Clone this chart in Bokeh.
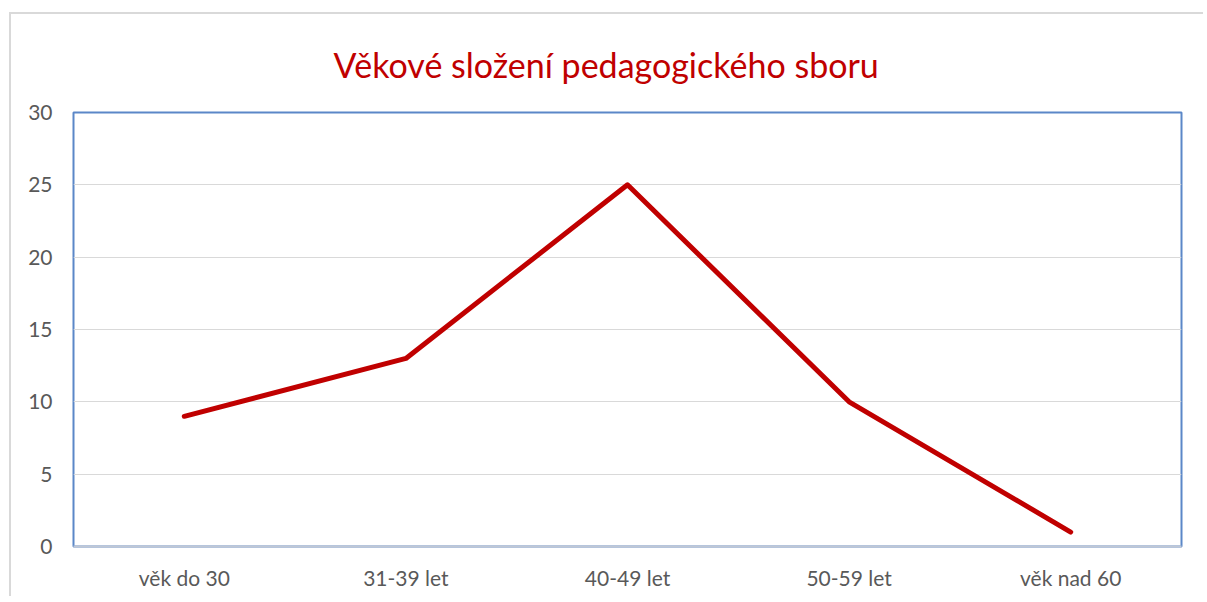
from bokeh.plotting import figure
from bokeh.embed import file_html
from bokeh.resources import INLINE
from bokeh.models import Range1d, FixedTicker

categories = ["věk do 30", "31-39 let", "40-49 let", "50-59 let", "věk nad 60"]
values = [9, 13, 25, 10, 1]
y_ticks = [0, 5, 10, 15, 20, 25, 30]
title_text = "Věkové složení pedagogického sboru"

FONT = "Lato"
p = figure(x_range=categories, width=1194, height=584, output_backend="svg",
           toolbar_location=None, title=title_text)
p.y_range = Range1d(0, 30)
p.min_border_left = 62
p.min_border_right = 24
p.min_border_top = 98
p.min_border_bottom = 52

p.line(x=categories, y=values, line_color="#C00000", line_width=5, line_join="round", line_cap="round")

p.title.text_font = FONT
p.title.text_font_size = "34px"
p.title.text_font_style = "normal"
p.title.text_color = "#C00000"
p.title.align = "left"
p.title.offset = 260
p.title.vertical_align = "bottom"
p.title.standoff = 55

p.outline_line_color = "#5B87C8"
p.outline_line_width = 2
p.outline_line_alpha = 1

p.xgrid.grid_line_color = None
p.ygrid.grid_line_color = "#D9D9D9"
p.ygrid.grid_line_width = 1

p.yaxis.ticker = FixedTicker(ticks=y_ticks)
for ax in (p.xaxis[0], p.yaxis[0]):
    ax.major_tick_line_color = None
    ax.minor_tick_line_color = None
    ax.major_label_text_font = FONT
    ax.major_label_text_font_size = "21px"
    ax.major_label_text_color = "#595959"
p.yaxis.axis_line_color = None
p.xaxis.axis_line_color = "#BFC7D5"
p.xaxis.axis_line_width = 2
p.yaxis.major_label_standoff = 15
p.xaxis.major_label_standoff = 12

p.styles = {"border-left": "2px solid #D9D9D9", "border-top": "2px solid #D9D9D9",
            "margin-left": "9px", "margin-top": "12px"}

open("out.html", "w").write(file_html(p, INLINE))
